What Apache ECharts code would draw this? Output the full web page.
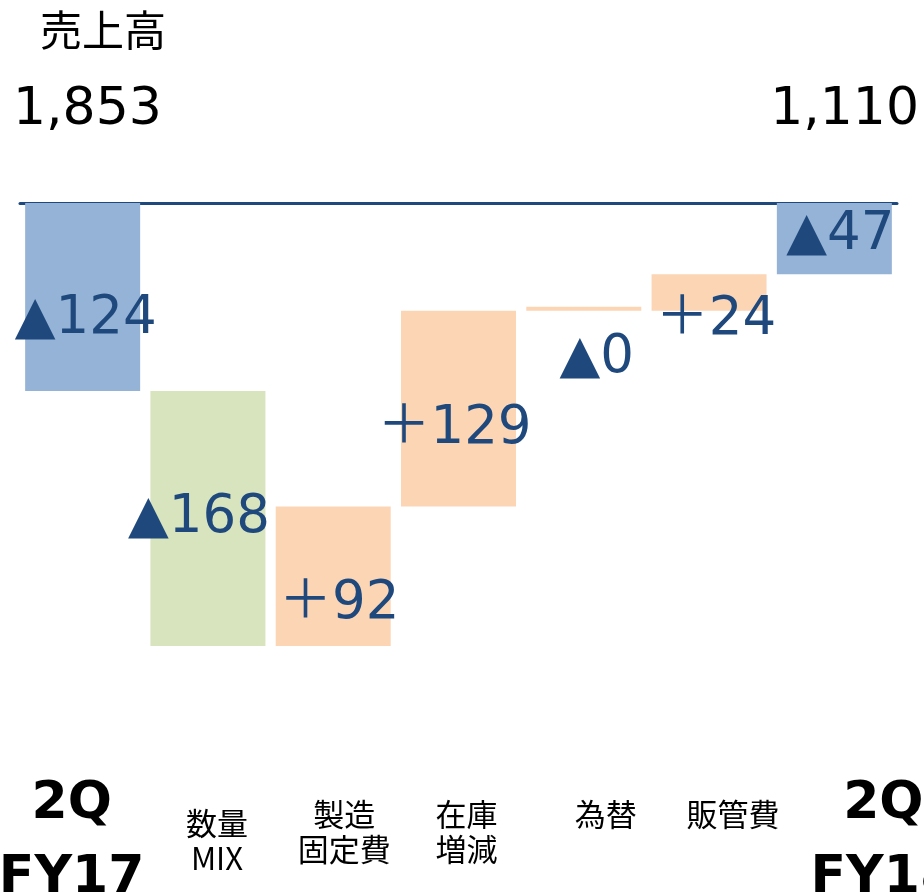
<!DOCTYPE html>
<html>
<head>
<meta charset="utf-8">
<script src="https://cdn.jsdelivr.net/npm/echarts@6/dist/echarts.min.js"></script>
<style>
  html, body { margin: 0; padding: 0; background: #fff; }
  #chart { width: 924px; height: 893px; }
</style>
</head>
<body>
<div id="chart"></div>
<script>
// 項目（x軸）
const categories = ['2Q\nFY17', '数量\nMIX', '製造\n固定費', '在庫\n増減', '為替', '販管費', '2Q\nFY18'];
// 期首・期末の値
const startTotal = -124;
const endTotal = -47;
// 増減（数量MIX〜販管費）
const steps = [-168, 92, 129, 0, 24];
// バーのラベル
const barLabels = ['▲124', '▲168', '＋92', '＋129', '▲0', '＋24', '▲47'];
// 売上高
const salesTitle = '売上高';
const salesStart = '1,853';
const salesEnd = '1,110';

// 見た目
const BLUE = '#95b3d7', GREEN = '#d7e4bd', ORANGE = '#fcd5b5', NAVY = '#1f497d';
const barColors = [BLUE, GREEN, ORANGE, ORANGE, ORANGE, ORANGE, BLUE];
const labelOffsets = [[3, 22], [-9, 0], [6, 28], [-4, 21], [13, 50], [7, 28], [6, -3]];
const tickShift = [-11, 9, 11, 8, 22, 24, 49];

// 滝グラフ用に base（透明）と表示部分を作る
const deltas = [startTotal, ...steps];
const bases = [];
const visible = [];
let level = 0;
deltas.forEach((d) => {
  const s = level, e = level + d;
  bases.push(Math.max(s, e));
  visible.push(-Math.abs(d));
  level = e;
});
bases.push(0);
visible.push(endTotal);

const chart = echarts.init(document.getElementById('chart'));

const bigRich = {};
const smallRich = {};
tickShift.forEach((d, i) => {
  const pad = d > 0 ? [0, 0, 0, 2 * d] : [0, -2 * d, 0, 0];
  bigRich['b' + i] = {
    fontFamily: 'DejaVu Sans', fontWeight: 'bold', fontSize: 52,
    lineHeight: 74, color: '#000', padding: pad
  };
  smallRich['s' + i] = {
    fontFamily: 'Noto Sans CJK JP', fontSize: 31,
    lineHeight: 35, color: '#000', padding: pad
  };
});
// 数量MIX は少し下
smallRich.s1a = Object.assign({}, smallRich.s1, { lineHeight: 53 });
smallRich.s1b = Object.assign({}, smallRich.s1, { lineHeight: 17 });

const isTotal = (i) => i === 0 || i === categories.length - 1;

chart.setOption({
  animation: false,
  title: [
    { text: salesTitle, left: 35, top: 4,
      textStyle: { fontFamily: 'Noto Sans CJK JP', fontSize: 42, fontWeight: 'normal', color: '#000' } },
    { text: salesStart, left: 8, top: 79,
      textStyle: { fontFamily: 'DejaVu Sans', fontSize: 52, fontWeight: 'normal', color: '#000' } },
    { text: salesEnd, right: 0, top: 79,
      textStyle: { fontFamily: 'DejaVu Sans', fontSize: 52, fontWeight: 'normal', color: '#000' } }
  ],
  grid: { left: 20, right: 27, top: 203, bottom: 247, outerBoundsMode: 'none', containLabel: false },
  xAxis: [
    {
      type: 'category', data: categories, position: 'bottom',
      axisLine: { show: false }, axisTick: { show: false },
      axisLabel: {
        interval: 0, margin: 121, verticalAlign: 'top', rich: bigRich,
        formatter: (v, i) => isTotal(i) ? v.split('\n').map((t) => '{b' + i + '|' + t + '}').join('\n') : ''
      }
    },
    {
      type: 'category', data: categories, position: 'bottom',
      axisLine: { show: false }, axisTick: { show: false },
      axisLabel: {
        interval: 0, margin: 151, verticalAlign: 'top', rich: smallRich,
        formatter: (v, i) => {
          if (isTotal(i)) return '';
          const lines = v.split('\n');
          if (i === 1) return '{s1a|' + lines[0] + '}\n{s1b|' + lines[1] + '}';
          return lines.map((t) => '{s' + i + '|' + t + '}').join('\n');
        }
      }
    },
    {
      type: 'category', data: categories, position: 'top',
      axisLine: { show: true, lineStyle: { color: NAVY, width: 3 } },
      axisTick: { show: false }, axisLabel: { show: false }
    }
  ],
  yAxis: { type: 'value', min: -292, max: 0, show: false, splitLine: { show: false } },
  series: [
    {
      name: 'base', type: 'bar', stack: 'wf', stackStrategy: 'all',
      barWidth: 115, itemStyle: { color: 'transparent' }, silent: true,
      data: bases
    },
    {
      name: 'value', type: 'bar', stack: 'wf', stackStrategy: 'all',
      barWidth: 115, barMinHeight: 4,
      data: visible.map((v, i) => ({
        value: v,
        itemStyle: { color: barColors[i] },
        label: { offset: labelOffsets[i] }
      })),
      label: {
        show: true, position: 'inside',
        fontFamily: 'DejaVu Sans, Noto Sans CJK JP', fontSize: 53, color: NAVY,
        formatter: (p) => barLabels[p.dataIndex]
      },
      z: 3
    }
  ]
});
</script>
</body>
</html>
